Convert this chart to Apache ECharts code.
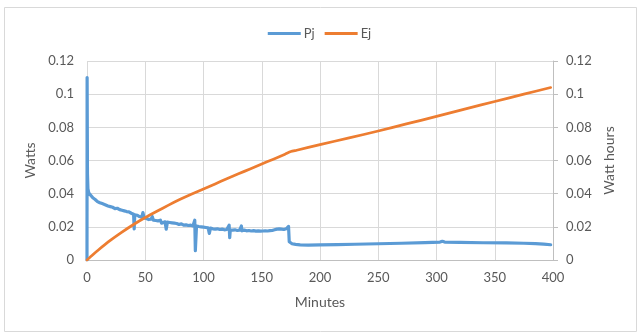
<!DOCTYPE html>
<html>
<head>
<meta charset="utf-8">
<style>
  html, body { margin: 0; padding: 0; background: #ffffff; }
  #chart { width: 639px; height: 336px; }
</style>
<script src="https://cdn.jsdelivr.net/npm/echarts@6/dist/echarts.min.js"></script>
</head>
<body>
<div id="chart"></div>
<script>
// Power draw (W) over time (minutes)
const pjMinutes = [
  0, 0.1, 0.4, 0.8, 1.5, 3, 5, 7, 9, 11, 13, 14.5, 16, 18, 20, 22, 24, 26, 28, 30,
  32, 34, 36, 38, 40, 40.5, 41, 43, 45, 47, 48, 49, 51, 53, 55, 56, 57, 59, 61, 63,
  64, 65, 67, 68, 69, 71, 73, 75, 77, 79, 81, 83, 85, 87, 89, 91, 92.5, 93, 94, 96,
  98, 100, 102, 104, 105, 106, 108, 110, 112, 114, 116, 118, 120, 122, 122.5, 123, 125, 127, 129, 131,
  132.5, 133, 135, 137, 139, 141, 143, 145, 147, 149, 151, 153, 155, 157, 159, 161, 163, 165, 167, 169,
  171, 173, 173.6, 174, 176, 179, 183, 190, 200, 215, 230, 250, 270, 290, 303, 305, 307, 320, 340, 360,
  375, 385, 392, 398
];
const pjWatts = [
  0.000, 0.110, 0.052, 0.043, 0.0405, 0.0392, 0.0375, 0.0365, 0.0352, 0.0345, 0.0340, 0.0350, 0.0332, 0.0326, 0.0322, 0.0318, 0.0310, 0.0312, 0.0304, 0.0300,
  0.0296, 0.0292, 0.0290, 0.0282, 0.0276, 0.0188, 0.0272, 0.0270, 0.0262, 0.0258, 0.0286, 0.0254, 0.0250, 0.0244, 0.0246, 0.0262, 0.0240, 0.0238, 0.0236, 0.0240,
  0.0222, 0.0234, 0.0230, 0.0186, 0.0228, 0.0226, 0.0224, 0.0222, 0.0220, 0.0214, 0.0218, 0.0210, 0.0212, 0.0208, 0.0210, 0.0206, 0.0240, 0.0056, 0.0205, 0.0202,
  0.0200, 0.0198, 0.0196, 0.0194, 0.0160, 0.0192, 0.0188, 0.0186, 0.0188, 0.0184, 0.0186, 0.0182, 0.0184, 0.0210, 0.0135, 0.0182, 0.0180, 0.0182, 0.0178, 0.0180,
  0.0205, 0.0176, 0.0180, 0.0176, 0.0178, 0.0175, 0.0177, 0.0174, 0.0176, 0.0174, 0.0175, 0.0176, 0.0175, 0.0177, 0.0178, 0.0182, 0.0186, 0.0188, 0.0186, 0.0184,
  0.0188, 0.0202, 0.0110, 0.0104, 0.0098, 0.0094, 0.0091, 0.0090, 0.0091, 0.0093, 0.0095, 0.0098, 0.0101, 0.0105, 0.0108, 0.0113, 0.0108, 0.0106, 0.0104, 0.0103,
  0.0101, 0.0099, 0.0096, 0.0092
];

// Accumulated energy (Wh) over time (minutes)
const ejMinutes = [0, 5, 10, 20, 30, 40, 50, 60, 70, 80, 90, 100, 110, 120, 130, 140, 150, 160, 170, 175,
  180, 200, 225, 250, 275, 300, 325, 350, 375, 398];
const ejWattHours = [0, 0.0032, 0.0062, 0.0118, 0.0168, 0.0214, 0.0256, 0.0294, 0.0331, 0.0366, 0.0398, 0.0428,
  0.0459, 0.0490, 0.0520, 0.0549, 0.0579, 0.0608, 0.0638, 0.0654,
  0.0662, 0.0696, 0.0736, 0.0778, 0.0822, 0.0866, 0.0911, 0.0956, 0.1000, 0.1040];

const seriesNames = ['Pj', 'Ej'];
const axisTitles = { x: 'Minutes', left: 'Watts', right: 'Watt hours' };

const zip = (xs, ys) => xs.map((x, i) => [x, ys[i]]);

const textColor = '#595959';
const fontFamily = 'Lato, "Open Sans", sans-serif';

const chart = echarts.init(document.getElementById('chart'), null, { renderer: 'canvas' });

const yAxisBase = {
  type: 'value',
  min: 0,
  max: 0.12,
  interval: 0.02,
  nameLocation: 'middle',
  nameRotate: 90,
  nameTextStyle: { color: textColor, fontSize: 14, fontFamily },
  axisLabel: { color: textColor, fontSize: 13, fontFamily, margin: 13 },
  axisTick: { show: false },
  axisLine: { show: false },
  splitLine: { show: false }
};

chart.setOption({
  animation: false,
  backgroundColor: '#ffffff',
  graphic: [{
    type: 'rect',
    shape: { x: 4.5, y: 7.5, width: 632, height: 324 },
    style: { fill: 'none', stroke: '#D9D9D9', lineWidth: 1 },
    silent: true
  }],
  legend: {
    data: seriesNames,
    top: 22,
    left: 'center',
    itemWidth: 33,
    itemHeight: 3,
    itemGap: 10,
    icon: 'rect',
    textStyle: { color: textColor, fontSize: 13, fontFamily, padding: [0, 0, 0, -2] }
  },
  grid: { left: 87, right: 86, top: 61, bottom: 76, containLabel: false },
  xAxis: {
    type: 'value',
    min: 0,
    max: 400,
    interval: 50,
    name: axisTitles.x,
    nameLocation: 'middle',
    nameGap: 35,
    nameTextStyle: { color: textColor, fontSize: 14, fontFamily },
    axisLabel: { color: textColor, fontSize: 13, fontFamily, margin: 11 },
    axisTick: { show: false },
    axisLine: { show: true, lineStyle: { color: '#BFBFBF', width: 1 } },
    splitLine: { show: true, lineStyle: { color: '#D9D9D9', width: 1 } }
  },
  yAxis: [
    Object.assign({}, yAxisBase, {
      position: 'left',
      name: axisTitles.left,
      nameGap: 43,
      splitLine: { show: true, lineStyle: { color: '#D9D9D9', width: 1 } }
    }),
    Object.assign({}, yAxisBase, {
      position: 'right',
      name: axisTitles.right,
      nameGap: 46,
      axisLine: { show: true, lineStyle: { color: '#BFBFBF', width: 1 } },
      axisTick: { show: true, inside: false, length: 5, lineStyle: { color: '#BFBFBF' } }
    })
  ],
  series: [
    {
      name: seriesNames[0],
      type: 'line',
      yAxisIndex: 0,
      data: zip(pjMinutes, pjWatts),
      showSymbol: false,
      symbol: 'none',
      lineStyle: { color: '#5B9BD5', width: 3.2, join: 'round', cap: 'round' },
      itemStyle: { color: '#5B9BD5' }
    },
    {
      name: seriesNames[1],
      type: 'line',
      yAxisIndex: 1,
      data: zip(ejMinutes, ejWattHours),
      showSymbol: false,
      symbol: 'none',
      smooth: 0.2,
      lineStyle: { color: '#ED7D31', width: 2.75, join: 'round', cap: 'round' },
      itemStyle: { color: '#ED7D31' }
    }
  ]
});
</script>
</body>
</html>
